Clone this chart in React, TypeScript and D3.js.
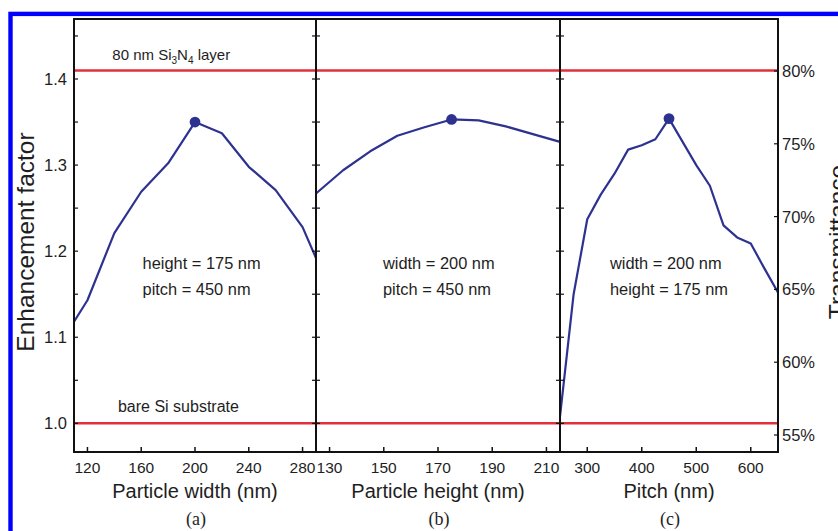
import React from 'react';
import * as d3 from 'd3';

// enhancement factor vs particle width (height 175 nm, pitch 450 nm)
const widthNm = [110, 120, 140, 160, 180, 200, 220, 240, 260, 280, 290];
const widthEf = [1.118, 1.143, 1.221, 1.269, 1.302, 1.35, 1.337, 1.298, 1.271, 1.228, 1.192];

// vs particle height (width 200 nm, pitch 450 nm)
const heightNm = [125, 135, 145, 155, 165, 175, 185, 195, 205, 215];
const heightEf = [1.267, 1.294, 1.316, 1.334, 1.344, 1.353, 1.352, 1.345, 1.336, 1.327];

// vs pitch (width 200 nm, height 175 nm)
const pitchNm = [250, 275, 300, 325, 350, 375, 400, 425, 450, 475, 500, 525, 550, 575, 600, 625, 650];
const pitchEf = [1.008, 1.15, 1.237, 1.266, 1.29, 1.318, 1.323, 1.33, 1.354, 1.327, 1.3, 1.276, 1.23, 1.216, 1.209, 1.18, 1.152];

const refLevels = [1.0, 1.41];
const efTicks = [1.0, 1.1, 1.2, 1.3, 1.4];
const efMinor = [1.0, 1.05, 1.1, 1.15, 1.2, 1.25, 1.3, 1.35, 1.4, 1.45];
const transTicks = [55, 60, 65, 70, 75, 80];
const widthTicks = [120, 160, 200, 240, 280];
const heightTicks = [130, 150, 170, 190, 210];
const pitchTicks = [300, 400, 500, 600];

const FONT = '"Liberation Sans", Arial, Helvetica, sans-serif';
const SERIF = '"Liberation Serif", "Times New Roman", serif';
const CURVE = '#2d3290';
const RED = '#e0303c';
const TXT = '#1e1e1e';

const top = 19, bottom = 452;
const y = d3.scaleLinear().domain([0.9667, 1.4697]).range([bottom, top]);
const yT = d3.scaleLinear().domain([55, 80]).range([435, 71]);

const panels = [
  { x: d3.scaleLinear().domain([110, 290]).range([74, 316]), xs: widthNm, ys: widthEf, ticks: widthTicks,
    title: 'Particle width (nm)', tag: '(a)', note: ['height = 175 nm', 'pitch = 450 nm'], noteX: 161 },
  { x: d3.scaleLinear().domain([125, 215]).range([316, 560]), xs: heightNm, ys: heightEf, ticks: heightTicks,
    title: 'Particle height (nm)', tag: '(b)', note: ['width = 200 nm', 'pitch = 450 nm'], noteX: 149.7 },
  { x: d3.scaleLinear().domain([250, 650]).range([560, 778]), xs: pitchNm, ys: pitchEf, ticks: pitchTicks,
    title: 'Pitch (nm)', tag: '(c)', note: ['width = 200 nm', 'height = 175 nm'], noteX: 341.7 },
];

function Panel({ p, last }: { p: any; last: boolean }) {
  const [x0, x1] = p.x.range();
  const line = d3.line<number>().x((d, i) => p.x(p.xs[i])).y(d => y(d));
  const best = d3.maxIndex(p.ys);
  const cx = (x0 + x1) / 2;
  return (
    <g>
      <path d={line(p.ys) || ''} fill="none" stroke={CURVE} strokeWidth={2.2} strokeLinejoin="round" />
      <circle cx={p.x(p.xs[best])} cy={y(p.ys[best])} r={5.4} fill={CURVE} />
      {/* inward ticks on left border, and right border unless last panel */}
      {efMinor.map(v => (
        <g key={v} stroke="#111" strokeWidth={1.2}>
          <line x1={x0} x2={x0 + 4} y1={y(v)} y2={y(v)} />
          {!last && <line x1={x1 - 4} x2={x1} y1={y(v)} y2={y(v)} />}
        </g>
      ))}
      {p.ticks.map((t: number) => (
        <g key={t}>
          <line x1={p.x(t)} x2={p.x(t)} y1={bottom} y2={bottom - 5} stroke="#111" strokeWidth={1.5} />
          <text x={p.x(t)} y={473} textAnchor="middle" fontSize={15.5} fill={TXT}>{t}</text>
        </g>
      ))}
      <text x={cx} y={498} textAnchor="middle" fontSize={20} fill={TXT}>{p.title}</text>
      <text x={cx + 1} y={525} textAnchor="middle" fontSize={18} fontFamily={SERIF} fill={TXT}>{p.tag}</text>
      {p.note.map((s: string, i: number) => (
        <text key={s} x={p.x(p.noteX)} y={y(1.179) + i * 26} fontSize={16.4} fill={TXT}>{s}</text>
      ))}
    </g>
  );
}

export default function App() {
  const W = 838, H = 531;
  const xl = 74, xr = 778;
  return (
    <svg width={W} height={H} style={{ position: 'absolute', left: 0, top: 0, background: '#fff' }} fontFamily={FONT}>
      <rect x={0} y={0} width={W} height={H} fill="#fff" />
      <rect x={10.5} y={13.9} width={1000} height={1000} fill="none" stroke="#0000ff" strokeWidth={4.4} />

      {refLevels.map(v => (
        <line key={v} x1={xl} x2={xr} y1={y(v)} y2={y(v)} stroke={RED} strokeWidth={2.5} />
      ))}

      {panels.map((p, i) => <Panel key={i} p={p} last={i === panels.length - 1} />)}

      {/* frame */}
      <rect x={xl} y={top} width={xr - xl} height={bottom - top} fill="none" stroke="#111" strokeWidth={2} />
      {panels.slice(1).map((p, i) => (
        <line key={i} x1={p.x.range()[0]} x2={p.x.range()[0]} y1={top} y2={bottom} stroke="#111" strokeWidth={2} />
      ))}

      {/* left axis labels */}
      {efTicks.map(v => (
        <text key={v} x={67} y={y(v)} dy="0.36em" textAnchor="end" fontSize={16.5} fill={TXT}>{d3.format('.1f')(v)}</text>
      ))}
      <text transform={`translate(34,242) rotate(-90)`} textAnchor="middle" fontSize={24.5} fill={TXT}>Enhancement factor</text>

      {/* right transmittance axis */}
      {transTicks.map(v => (
        <g key={v}>
          <line x1={xr - 4} x2={xr} y1={yT(v)} y2={yT(v)} stroke="#111" strokeWidth={1.2} />
          <text x={782} y={yT(v)} dy="0.36em" fontSize={16.5} fill={TXT}>{v}%</text>
        </g>
      ))}
      <text transform={`translate(846,242) rotate(-90)`} textAnchor="middle" fontSize={24.5} fill={TXT}>Transmittance</text>

      {/* reference line labels */}
      <text x={panels[0].x(138.5)} y={y(1.422)} fontSize={15} fill={TXT}>
        80 nm Si<tspan fontSize={10} dy={4}>3</tspan><tspan dy={-4}>N</tspan><tspan fontSize={10} dy={4}>4</tspan><tspan dy={-4}> layer</tspan>
      </text>
      <text x={panels[0].x(142.7)} y={y(1.013)} fontSize={16} fill={TXT}>bare Si substrate</text>
    </svg>
  );
}
